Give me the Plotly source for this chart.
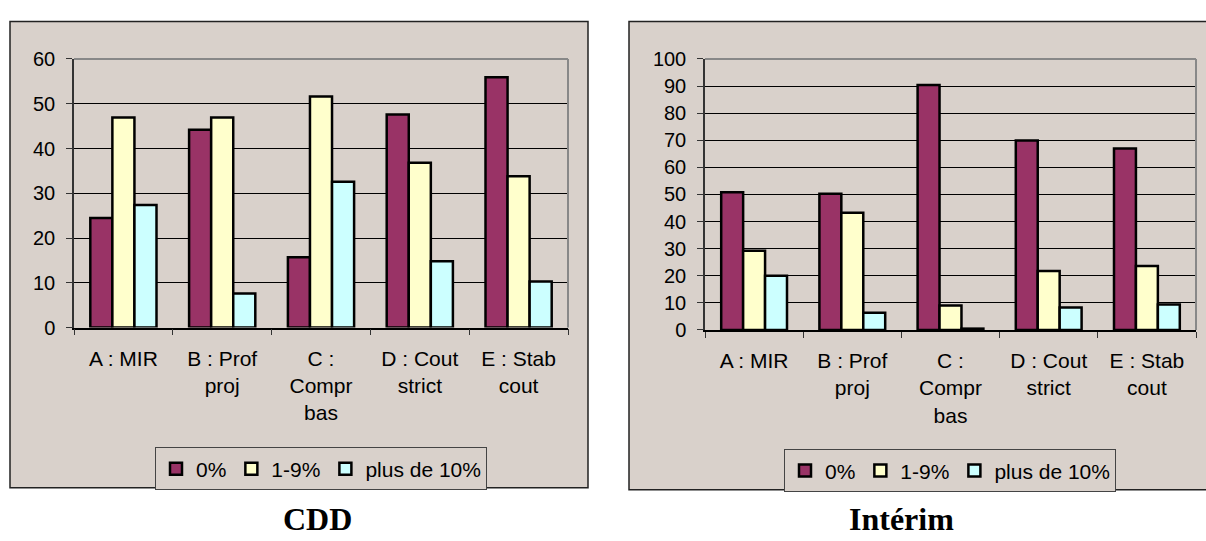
import plotly.graph_objects as go

# Categories and series (percentages)
categories = ["A : MIR", "B : Prof<br>proj", "C :<br>Compr<br>bas", "D : Cout<br>strict", "E : Stab<br>cout"]
series_names = ["0%", "1-9%", "plus de 10%"]

cdd_0 = [24.5, 44.2, 15.7, 47.6, 55.9]
cdd_1_9 = [46.9, 46.9, 51.6, 36.8, 33.8]
cdd_10 = [27.4, 7.6, 32.6, 14.8, 10.3]

interim_0 = [50.8, 50.3, 90.4, 69.9, 67.0]
interim_1_9 = [29.2, 43.3, 9.0, 21.8, 23.6]
interim_10 = [20.0, 6.4, 0.5, 8.3, 9.4]

colors = ["#993366", "#FFFFCC", "#CCFFFF"]
panel_bg = "#D9D1CB"
W, H = 1206, 541


def px(x):
    return x / W


def py(y):
    return 1 - y / H


fig = go.Figure()

for vals, name, col in zip([cdd_0, cdd_1_9, cdd_10], series_names, colors):
    fig.add_trace(go.Bar(x=categories, y=vals, name=name, marker=dict(color=col, line=dict(color="black", width=2.5)),
                         xaxis="x", yaxis="y", legend="legend"))
for vals, name, col in zip([interim_0, interim_1_9, interim_10], series_names, colors):
    fig.add_trace(go.Bar(x=categories, y=vals, name=name, marker=dict(color=col, line=dict(color="black", width=2.5)),
                         xaxis="x2", yaxis="y2", legend="legend2"))

sans = "Liberation Sans, Arial"

xcommon = dict(type="category", showline=True, linecolor="black", linewidth=1.5, ticks="outside",
               tickson="boundaries", ticklen=6, tickcolor="#333", ticklabelstandoff=11,
               tickfont=dict(family=sans, size=21, color="black"), showgrid=False)
ycommon = dict(showline=True, linecolor="#333", linewidth=1.5, ticks="outside", ticklen=6, tickcolor="#333",
               ticklabelstandoff=7, tickfont=dict(family=sans, size=20, color="black"),
               showgrid=True, gridcolor="black", gridwidth=1, dtick=10, zeroline=False)

shapes = [
    # chart frames
    dict(type="rect", xref="paper", yref="paper", x0=px(10), x1=px(588), y0=py(497), y1=py(11),
         fillcolor=panel_bg, line=dict(color="#222", width=1.5), layer="below"),
    dict(type="rect", xref="paper", yref="paper", x0=px(629), x1=px(1212), y0=py(499), y1=py(11),
         fillcolor=panel_bg, line=dict(color="#222", width=1.5), layer="below"),
]
# grey top and right borders of each plot area
for xr, yr in [("x domain", "y domain"), ("x2 domain", "y2 domain")]:
    shapes.append(dict(type="line", xref=xr, yref=yr, x0=0, x1=1, y0=1, y1=1, line=dict(color="#888", width=2)))
    shapes.append(dict(type="line", xref=xr, yref=yr, x0=1, x1=1, y0=0, y1=1, line=dict(color="#888", width=2)))

legend_common = dict(orientation="h", xanchor="center", yanchor="top", bgcolor=panel_bg, bordercolor="#444",
                     borderwidth=1, font=dict(family=sans, size=21, color="black"),
                     itemwidth=30, tracegroupgap=0)

title_font = dict(family="Liberation Serif, Times New Roman", size=32, color="black")

fig.update_layout(
    width=W, height=H, margin=dict(l=0, r=0, t=0, b=0),
    paper_bgcolor="white", plot_bgcolor="rgba(0,0,0,0)",
    barmode="group", bargap=0.33, bargroupgap=0,
    xaxis=dict(domain=[px(74), px(568)], anchor="y", **xcommon),
    yaxis=dict(domain=[py(330), py(50)], anchor="x", range=[0, 60], **ycommon),
    xaxis2=dict(domain=[px(705), px(1196)], anchor="y2", **xcommon),
    yaxis2=dict(domain=[py(332.5), py(50)], anchor="x2", range=[0, 100], **ycommon),
    legend=dict(x=px(321), y=py(455), **legend_common),
    legend2=dict(x=px(950), y=py(457), **legend_common),
    shapes=shapes,
    annotations=[
        dict(text="<b>CDD</b>", x=px(317), y=py(530), xref="paper", yref="paper", showarrow=False,
             xanchor="center", yanchor="middle", font=title_font),
        dict(text="<b>Intérim</b>", x=px(901), y=py(530), xref="paper", yref="paper", showarrow=False,
             xanchor="center", yanchor="middle", font=title_font),
    ],
)

fig.write_html("out.html")
